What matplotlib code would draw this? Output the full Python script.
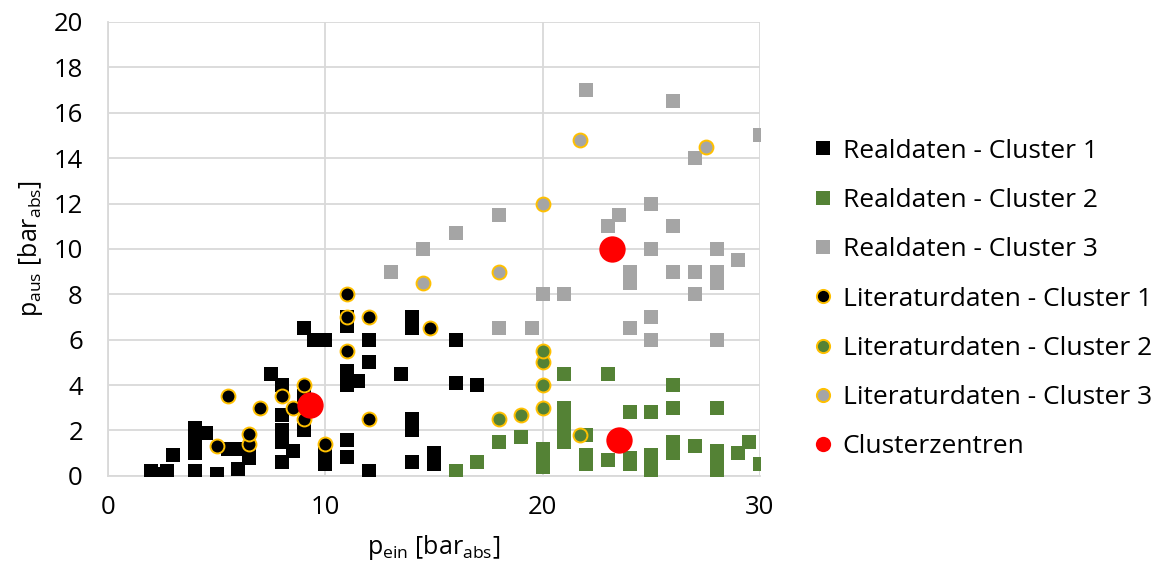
import matplotlib.pyplot as plt
from matplotlib.lines import Line2D

plt.rcParams["font.family"] = ["Open Sans", "DejaVu Sans"]
plt.rcParams["mathtext.fontset"] = "custom"
plt.rcParams["mathtext.rm"] = "Open Sans"
plt.rcParams["mathtext.it"] = "Open Sans"

# Realdaten - Cluster 1
x_real1 = [2, 2.3, 2.7, 3, 4, 4, 4, 4, 4.5, 5, 5.5, 6, 6, 6.5, 6.5, 7.5, 8, 8, 8, 8, 8,
           8.5, 9, 9, 9, 9.5, 10, 10, 10, 11, 11, 11, 11, 11, 11, 11.5, 12, 12, 12, 13.5,
           14, 14, 14, 14, 14, 15, 15, 16, 16, 17]
y_real1 = [0.2, 0.1, 0.2, 0.9, 0.2, 1.0, 1.5, 2.1, 1.9, 0.1, 1.2, 0.3, 1.2, 0.8, 1.2, 4.5,
           0.6, 1.5, 2.0, 2.7, 4.0, 1.1, 6.5, 2.0, 3.5, 6.0, 6.0, 0.5, 1.0, 0.85, 1.6, 4.0,
           4.6, 6.6, 7.0, 4.2, 0.2, 5.0, 6.0, 4.5, 0.6, 2.0, 2.5, 6.5, 7.0, 0.5, 1.0, 4.1,
           6.0, 4.0]

# Realdaten - Cluster 2
x_real2 = [16, 17, 18, 19, 20, 20, 20, 21, 21, 21, 21, 21, 22, 22, 22, 23, 23, 24, 24, 24,
           25, 25, 25, 25, 26, 26, 26, 26, 27, 28, 28, 28, 28, 28, 29, 29.5, 30]
y_real2 = [0.2, 0.6, 1.5, 1.7, 1.2, 0.8, 0.4, 4.5, 3.0, 2.4, 2.0, 1.5, 1.8, 0.9, 0.5, 4.5,
           0.7, 2.8, 0.8, 0.5, 2.8, 0.9, 0.5, 0.2, 4.0, 3.0, 1.5, 1.0, 1.3, 3.0, 1.1, 0.7,
           0.3, 0.1, 1.0, 1.5, 0.5]

# Realdaten - Cluster 3
x_real3 = [13, 14.5, 16, 18, 18, 19.5, 20, 21, 22, 23, 23.5, 24, 24, 24, 25, 25, 25, 25,
           26, 26, 26, 27, 27, 27, 28, 28, 28, 28, 29, 30]
y_real3 = [9.0, 10.0, 10.7, 11.5, 6.5, 6.5, 8.0, 8.0, 17.0, 11.0, 11.5, 9.0, 8.5, 6.5,
           12.0, 10.0, 7.0, 6.0, 16.5, 11.0, 9.0, 14.0, 9.0, 8.0, 10.0, 9.0, 8.5, 6.0, 9.5,
           15.0]

# Literaturdaten
x_lit1 = [5, 5.5, 6.5, 6.5, 7, 8, 8.5, 9, 9, 10, 11, 11, 11, 12, 12, 14.8]
y_lit1 = [1.3, 3.5, 1.4, 1.85, 3.0, 3.5, 3.0, 2.5, 4.0, 1.4, 5.5, 7.0, 8.0, 7.0, 2.5, 6.5]
x_lit2 = [18, 19, 20, 20, 20, 20, 21.7]
y_lit2 = [2.5, 2.7, 3.0, 4.0, 5.0, 5.5, 1.8]
x_lit3 = [14.5, 18, 20, 21.7, 27.5]
y_lit3 = [8.5, 9.0, 12.0, 14.8, 14.5]

# Clusterzentren
x_center = [9.3, 23.2, 23.5]
y_center = [3.1, 10.0, 1.6]

BLACK = "#000000"
GREEN = "#548235"
GREY = "#A5A5A5"
GOLD = "#FFC000"
RED = "#FF0000"
GRID = "#D9D9D9"

fig = plt.figure(figsize=(11.61, 5.74), dpi=100)
ax = fig.add_axes([0.093, 0.171, 0.5616, 0.7907])

sq = dict(marker="s", s=115, linewidths=0, zorder=3)
ax.scatter(x_real1, y_real1, c=BLACK, **sq)
ax.scatter(x_real2, y_real2, c=GREEN, **sq)
ax.scatter(x_real3, y_real3, c=GREY, **sq)

ci = dict(marker="o", s=100, edgecolors=GOLD, linewidths=1.4, zorder=4)
ax.scatter(x_lit1, y_lit1, c=BLACK, **ci)
ax.scatter(x_lit2, y_lit2, c=GREEN, **ci)
ax.scatter(x_lit3, y_lit3, c=GREY, **ci)

ax.scatter(x_center, y_center, c=RED, marker="o", s=360, linewidths=0, zorder=5)

ax.set_xlim(0, 30)
ax.set_ylim(0, 20)
ax.set_xticks([0, 10, 20, 30])
ax.set_yticks(range(0, 21, 2))
ax.grid(True, color=GRID, linewidth=1.3, zorder=0)
ax.set_axisbelow(True)
for side in ["top", "right"]:
    ax.spines[side].set_visible(False)
for side in ["left", "bottom"]:
    ax.spines[side].set_color(GRID)
    ax.spines[side].set_linewidth(1.3)
ax.tick_params(axis="y", length=0, labelsize=18.5, pad=18)
ax.tick_params(axis="x", length=0, labelsize=18.5, pad=14)

ax.set_xlabel(r"p$_{\mathrm{ein}}$ [bar$_{\mathrm{abs}}$]", fontsize=18, labelpad=9)
ax.set_ylabel(r"p$_{\mathrm{aus}}$ [bar$_{\mathrm{abs}}$]", fontsize=18, labelpad=6)


def sq_handle(label, colour):
    return Line2D([0], [0], marker="s", lw=0, markersize=10, markerfacecolor=colour,
                  markeredgewidth=0, label=label)


def ci_handle(label, colour):
    return Line2D([0], [0], marker="o", lw=0, markersize=9.5, markerfacecolor=colour,
                  markeredgecolor=GOLD, markeredgewidth=1.4, label=label)


handles = [
    sq_handle("Realdaten - Cluster 1", BLACK),
    sq_handle("Realdaten - Cluster 2", GREEN),
    sq_handle("Realdaten - Cluster 3", GREY),
    ci_handle("Literaturdaten - Cluster 1", BLACK),
    ci_handle("Literaturdaten - Cluster 2", GREEN),
    ci_handle("Literaturdaten - Cluster 3", GREY),
    Line2D([0], [0], marker="o", lw=0, markersize=11, markerfacecolor=RED,
           markeredgewidth=0, label="Clusterzentren"),
]
fig.legend(handles=handles, loc="center left", bbox_to_anchor=(0.693, 0.479),
           frameon=False, fontsize=19, handlelength=0.6, handletextpad=0.45,
           labelspacing=0.92, borderaxespad=0)

fig.savefig("out.png", dpi=100)
